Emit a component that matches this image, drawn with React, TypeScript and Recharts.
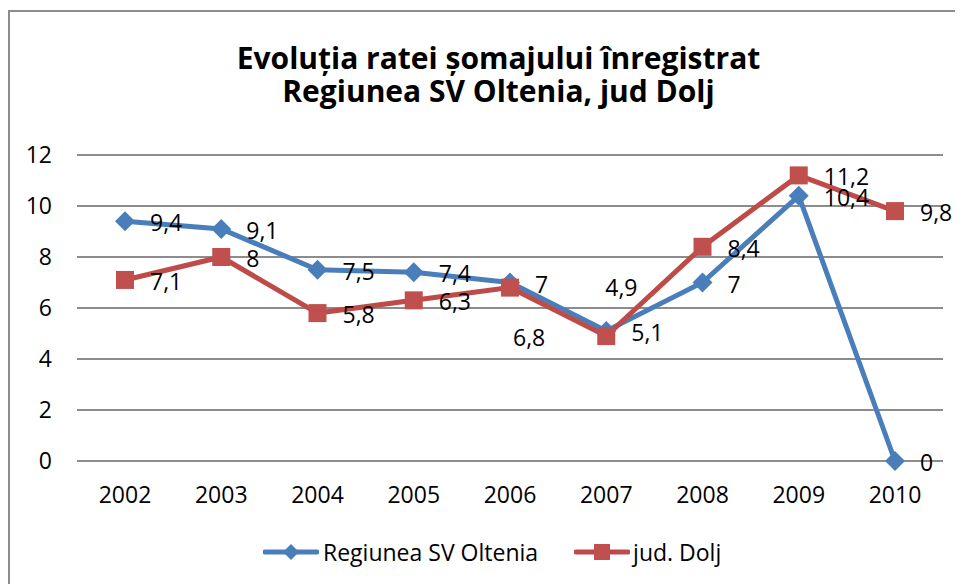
import { LineChart, Line, XAxis, YAxis, CartesianGrid, LabelList } from "recharts"

const FONT = "'Open Sans', sans-serif"

const ani = ["2002", "2003", "2004", "2005", "2006", "2007", "2008", "2009", "2010"]
const regiunea = [9.4, 9.1, 7.5, 7.4, 7, 5.1, 7, 10.4, 0]
const dolj = [7.1, 8, 5.8, 6.3, 6.8, 4.9, 8.4, 11.2, 9.8]
const yTicks = [0, 2, 4, 6, 8, 10, 12]

// labels that were dragged by hand in the original chart: index -> [dx, dy]
const doljLabelMoves: Record<number, [number, number]> = { 4: [-22, 48], 5: [-26, -50] }

const BLUE = "#4A7EBB"
const RED = "#BE4B48"

const fmt = (v: number) => String(v).replace(".", ",")

function labelFor(moves: Record<number, [number, number]>) {
  return (props: any) => {
    const x = props.x ?? props.viewBox?.x
    const y = props.y ?? props.viewBox?.y
    const [dx, dy] = moves[props.index] ?? [0, 0]
    return (
      <text
        x={x + 25 + dx}
        y={y + 2 + dy}
        dy="0.35em"
        fontSize={23}
        fontFamily={FONT}
        fill="#000"
      >
        {fmt(props.value)}
      </text>
    )
  }
}

const Diamond = (p: any) => (
  <path
    key={`dia-${p.index}`}
    d={`M${p.cx},${p.cy - 10} L${p.cx + 10},${p.cy} L${p.cx},${p.cy + 10} L${p.cx - 10},${p.cy} Z`}
    fill={BLUE}
  />
)

const Square = (p: any) => (
  <rect key={`sq-${p.index}`} x={p.cx - 9} y={p.cy - 9} width={18} height={18} fill="#C0504D" />
)

export default function App() {
  const data = ani.map((an, i) => ({ an, regiunea: regiunea[i], dolj: dolj[i] }))

  return (
    <div style={{ position: "relative", width: 955, height: 576, fontFamily: FONT }}>
      <div
        style={{
          position: "absolute",
          left: 0,
          top: 2,
          width: 955,
          height: 574,
          borderTop: "2px solid #8c8c8c",
          borderLeft: "2px solid #8c8c8c",
          boxSizing: "border-box",
        }}
      />
      <div style={{ position: "absolute", left: 0, top: 0 }}>
        <LineChart width={955} height={576} data={data} margin={{ top: 147, right: 20, left: 0, bottom: 0 }}>
          <CartesianGrid vertical={false} stroke="#8c8c8c" strokeWidth={2} />
          <XAxis
            dataKey="an"
            height={123}
            axisLine={false}
            tickLine={false}
            tickSize={0}
            tickMargin={26}
            padding={{ left: 48, right: 48 }}
            tick={{ fontSize: 23, fontFamily: FONT, fill: "#000" }}
          />
          <YAxis
            width={69}
            domain={[0, 12]}
            ticks={yTicks}
            axisLine={false}
            tickLine={false}
            tickSize={0}
            tickMargin={25}
            tick={{ fontSize: 23, fontFamily: FONT, fill: "#000" }}
          />
          <Line
            dataKey="regiunea"
            stroke={BLUE}
            strokeWidth={5}
            dot={Diamond}
            activeDot={false}
            isAnimationActive={false}
          >
            <LabelList dataKey="regiunea" content={labelFor({})} />
          </Line>
          <Line
            dataKey="dolj"
            stroke={RED}
            strokeWidth={5}
            dot={Square}
            activeDot={false}
            isAnimationActive={false}
          >
            <LabelList dataKey="dolj" content={labelFor(doljLabelMoves)} />
          </Line>
        </LineChart>
      </div>
      <div
        style={{
          position: "absolute",
          left: 13,
          top: 33,
          width: 955,
          textAlign: "center",
          fontWeight: 700,
          fontSize: 30,
          lineHeight: "33px",
          color: "#000",
        }}
      >
        Evoluția ratei șomajului înregistrat
        <br />
        Regiunea SV Oltenia, jud Dolj
      </div>
      <div
        style={{
          position: "absolute",
          left: 255,
          top: 529,
          display: "flex",
          alignItems: "center",
          gap: 36,
          fontSize: 23,
          lineHeight: "30px",
        }}
      >
        <div style={{ display: "flex", alignItems: "center", gap: 4 }}>
          <svg width={56} height={20}>
            <line x1={2} y1={10} x2={54} y2={10} stroke={BLUE} strokeWidth={5} strokeLinecap="round" />
            <path d="M28,2 L36,10 L28,18 L20,10 Z" fill={BLUE} />
          </svg>
          <span>Regiunea SV Oltenia</span>
        </div>
        <div style={{ display: "flex", alignItems: "center", gap: 3 }}>
          <svg width={56} height={20}>
            <line x1={2} y1={10} x2={54} y2={10} stroke={RED} strokeWidth={5} strokeLinecap="round" />
            <rect x={20} y={2} width={16} height={16} fill="#C0504D" />
          </svg>
          <span>jud. Dolj</span>
        </div>
      </div>
    </div>
  )
}
